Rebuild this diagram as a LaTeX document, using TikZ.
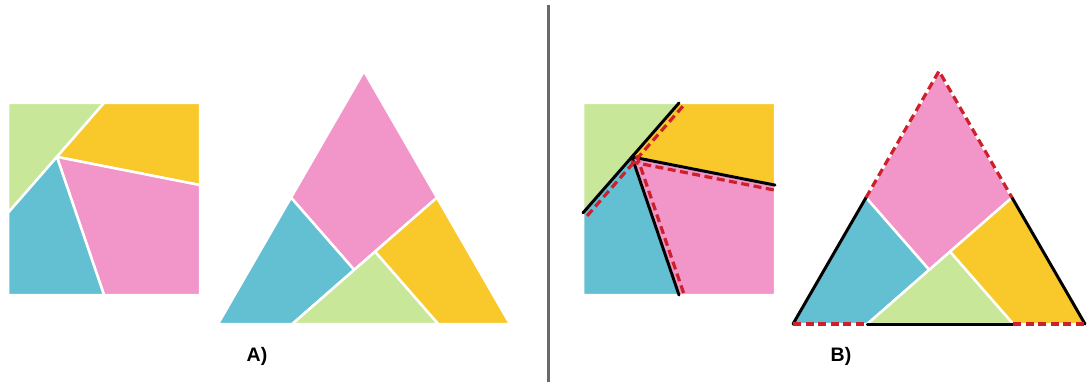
\documentclass[tikz,border=0pt]{standalone}
\usepackage{fontspec}
\setsansfont{Liberation Sans}
\usetikzlibrary{calc}
\definecolor{pcgreen}{RGB}{200,231,153}
\definecolor{pcyellow}{RGB}{249,201,44}
\definecolor{pcpink}{RGB}{242,149,201}
\definecolor{pcblue}{RGB}{99,192,211}
\definecolor{cutred}{RGB}{206,32,42}
\definecolor{divgray}{RGB}{105,105,105}

\begin{document}
\begin{tikzpicture}[x=1pt, y=-1pt,
    piece/.style={draw=white, line width=2.5pt, line join=round},
    cutsolid/.style={black, line width=3pt, line cap=round},
    cutdash/.style={cutred, line width=3.2pt, dash pattern=on 8pt off 4.5pt},
    lbl/.style={font=\sffamily\bfseries\fontsize{19.5}{22}\selectfont}
]
    \useasboundingbox (0,0) rectangle (1089,382);

    % the same four pieces in both panels
    \foreach \dx/\p in {0/a, 575/b} {
        \begin{scope}[shift={(\dx,0)}]
            % square corners and cut points
            \coordinate (\p-TL) at (8,103);
            \coordinate (\p-TR) at (200,103);
            \coordinate (\p-BR) at (200,295);
            \coordinate (\p-BL) at (8,295);
            \coordinate (\p-Bs) at (56.9,156.9);
            \coordinate (\p-Ds) at (104,295);
            \coordinate (\p-Es) at (200,185.1);
            \coordinate (\p-Ks) at (104,103);
            \coordinate (\p-Js) at (8,212.9);
            % triangle corners and cut points
            \coordinate (\p-tA) at (218,324);
            \coordinate (\p-tB) at (364,71.1);
            \coordinate (\p-tC) at (510,324);
            \coordinate (\p-tD) at (291,197.6);
            \coordinate (\p-tE) at (437,197.6);
            \coordinate (\p-tL) at (354.2,269.9);
            \coordinate (\p-tM) at (375.1,251.6);
            \coordinate (\p-tJ) at (292.3,324);
            \coordinate (\p-tK) at (438.3,324);
        \end{scope}
        % square
        \draw[piece, fill=pcgreen] (\p-TL) -- (\p-Ks) -- (\p-Js) -- cycle;
        \draw[piece, fill=pcyellow] (\p-Ks) -- (\p-TR) -- (\p-Es) -- (\p-Bs) -- cycle;
        \draw[piece, fill=pcpink] (\p-Bs) -- (\p-Es) -- (\p-BR) -- (\p-Ds) -- cycle;
        \draw[piece, fill=pcblue] (\p-Js) -- (\p-Bs) -- (\p-Ds) -- (\p-BL) -- cycle;
        % triangle
        \draw[piece, fill=pcpink] (\p-tB) -- (\p-tE) -- (\p-tL) -- (\p-tD) -- cycle;
        \draw[piece, fill=pcblue] (\p-tA) -- (\p-tD) -- (\p-tL) -- (\p-tJ) -- cycle;
        \draw[piece, fill=pcgreen] (\p-tJ) -- (\p-tM) -- (\p-tK) -- cycle;
        \draw[piece, fill=pcyellow] (\p-tE) -- (\p-tC) -- (\p-tK) -- (\p-tM) -- cycle;
    }

    % panel B: edges of the triangle
    \draw[cutsolid] (b-tA) -- (b-tD);
    \draw[cutsolid] (b-tE) -- (b-tC);
    \draw[cutsolid] (b-tJ) -- (b-tK);
    \draw[cutdash] (b-tD) -- (b-tB) -- (b-tE);
    \draw[cutdash] (b-tA) -- (b-tJ);
    \draw[cutdash] (b-tK) -- (b-tC);

    % panel B: the same edges inside the square
    \draw[cutsolid] (b-Ks) -- (b-Js);
    \draw[cutsolid] (b-Bs) -- (b-Es);
    \draw[cutsolid] (b-Bs) -- (b-Ds);
    \draw[cutdash] ($(b-Ks)+(3.8,3.3)$) -- ($(b-Js)+(3.8,3.3)$);
    \draw[cutdash] ($(b-Bs)+(-1,4.9)$) -- ($(b-Es)+(-1,4.9)$);
    \draw[cutdash] ($(b-Bs)+(4.7,-1.6)$) -- ($(b-Ds)+(4.7,-1.6)$);

    % divider
    \draw[divgray, line width=3.5pt] (548.5,5) -- (548.5,382);

    \node[lbl] (labA) at (257,356) {A)};
    \node[lbl] (labB) at (841,356) {B)};
\end{tikzpicture}
\end{document}
